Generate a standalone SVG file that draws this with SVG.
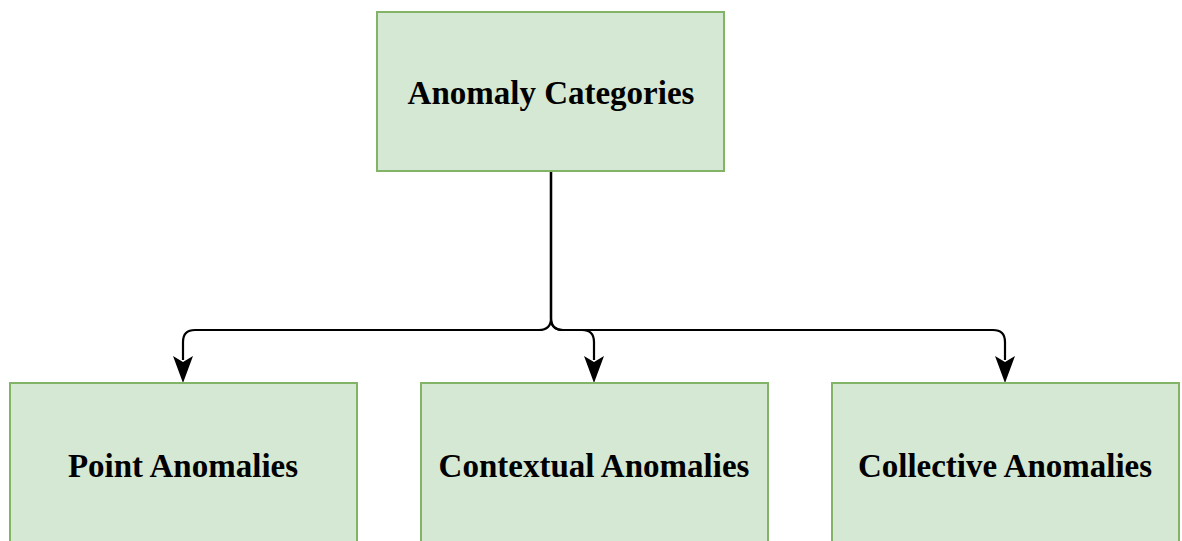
<svg xmlns="http://www.w3.org/2000/svg" width="1182" height="541" viewBox="0 0 1182 541">
  <style>
    .box { fill: #d5e8d4; stroke: #82b366; stroke-width: 2; }
    .label { font-family: "Liberation Serif", "Times New Roman", serif; font-weight: bold; font-size: 33px; fill: #000; text-anchor: middle; }
    .edge { fill: none; stroke: #000; stroke-width: 2.2; }
    .head { fill: #000; }
  </style>
  <rect width="1182" height="541" fill="#fff"/>

  <!-- edges from the root box down to the three category boxes -->
  <g id="connectors">
    <path class="edge" d="M551 172 V318 Q551 330 539 330 H195 Q183 330 183 342 V360"/>
    <path class="edge" d="M551 172 V318 Q551 330 563 330 H582 Q594 330 594 342 V360"/>
    <path class="edge" d="M551 172 V318 Q551 330 563 330 H993 Q1005 330 1005 342 V360"/>
    <path class="head" d="M173 356 L183 362 L193 356 L183 383 Z"/>
    <path class="head" d="M584 356 L594 362 L604 356 L594 383 Z"/>
    <path class="head" d="M995 356 L1005 362 L1015 356 L1005 383 Z"/>
  </g>

  <g id="anomaly-categories">
    <rect class="box" x="377" y="12" width="347" height="159"/>
    <text class="label" x="551" y="104">Anomaly Categories</text>
  </g>
  <g id="point-anomalies">
    <rect class="box" x="10" y="383" width="347" height="170"/>
    <text class="label" x="183" y="477">Point Anomalies</text>
  </g>
  <g id="contextual-anomalies">
    <rect class="box" x="421" y="383" width="347" height="170"/>
    <text class="label" x="594" y="477">Contextual Anomalies</text>
  </g>
  <g id="collective-anomalies">
    <rect class="box" x="832" y="383" width="347" height="170"/>
    <text class="label" x="1005" y="477">Collective Anomalies</text>
  </g>
</svg>
